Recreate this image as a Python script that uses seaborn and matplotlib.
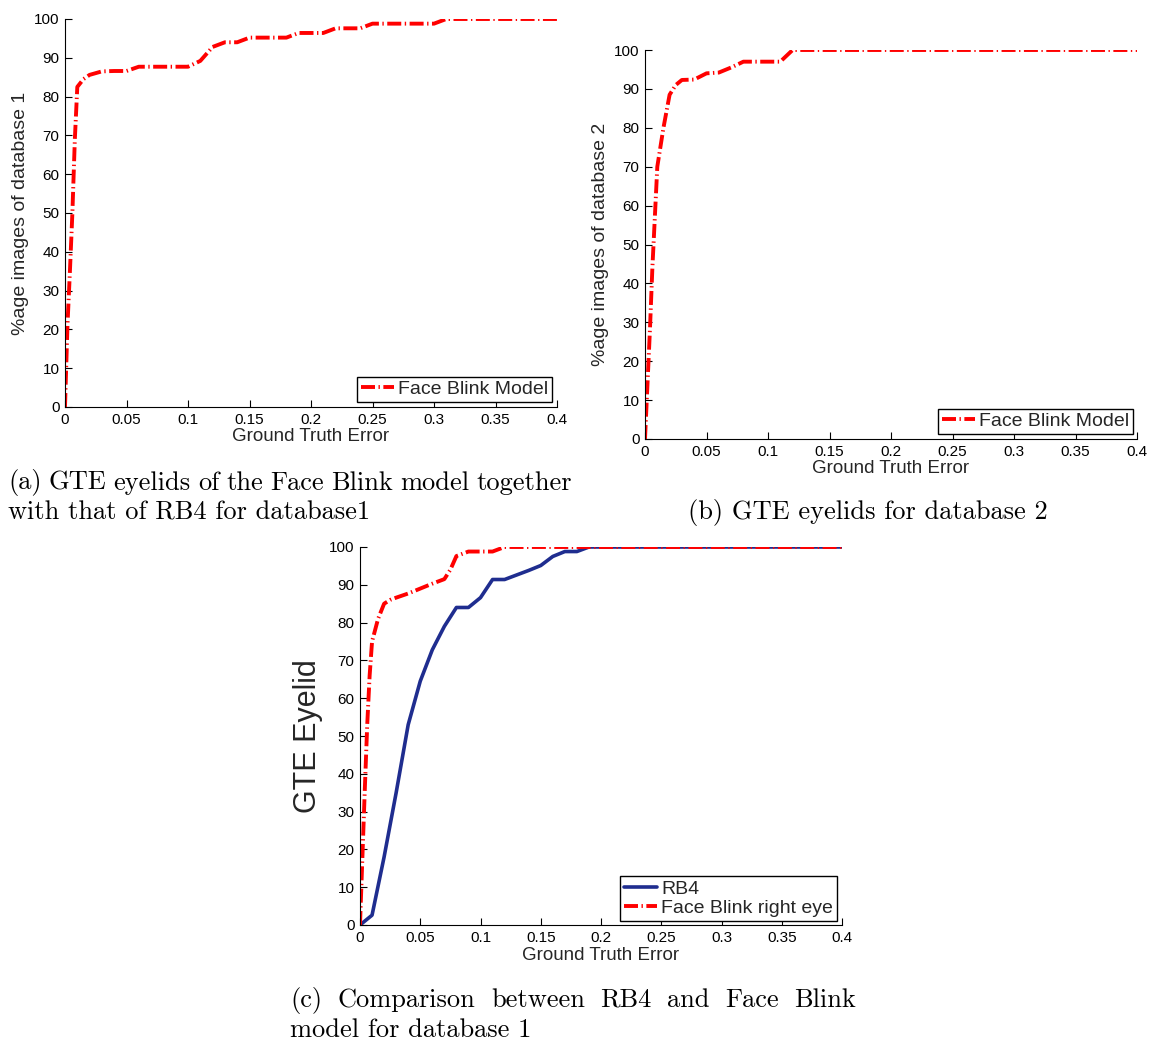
import numpy as np
import pandas as pd
import matplotlib
matplotlib.use("Agg")
import matplotlib.pyplot as plt
import seaborn as sns

# ---------------- data ----------------
# (a) database 1, Face Blink model
gte_a = [0, 0.002, 0.004, 0.006, 0.008, 0.01, 0.015, 0.02, 0.03, 0.04, 0.05,
         0.06, 0.07, 0.08, 0.09, 0.10, 0.11, 0.12, 0.13, 0.14, 0.15, 0.16,
         0.17, 0.18, 0.19, 0.20, 0.21, 0.22, 0.23, 0.24, 0.25, 0.26, 0.27,
         0.28, 0.29, 0.30, 0.31, 0.32, 0.33, 0.34, 0.35, 0.36, 0.37, 0.38,
         0.39, 0.40]
pct_a = [0, 21, 35, 50, 69, 82.5, 84.5, 85.6, 86.5, 86.6, 86.6,
         87.7, 87.7, 87.7, 87.7, 87.7, 89.2, 92.8, 94.0, 94.0, 95.2, 95.2,
         95.2, 95.2, 96.4, 96.4, 96.4, 97.6, 97.6, 97.6, 98.8, 98.8, 98.8,
         98.8, 98.8, 98.8, 100, 100, 100, 100, 100, 100, 100, 100,
         100, 100]

# (b) database 2, Face Blink model
gte_b = [0, 0.002, 0.004, 0.006, 0.008, 0.01, 0.015, 0.02, 0.025, 0.03,
         0.04, 0.05, 0.06, 0.07, 0.08, 0.09, 0.10, 0.11, 0.12, 0.13, 0.14,
         0.15, 0.16, 0.17, 0.18, 0.19, 0.20, 0.21, 0.22, 0.23, 0.24, 0.25,
         0.26, 0.27, 0.28, 0.29, 0.30, 0.31, 0.32, 0.33, 0.34, 0.35, 0.36,
         0.37, 0.38, 0.39, 0.40]
pct_b = [0, 14, 28, 44, 57, 70, 80, 88.5, 91, 92.3,
         92.4, 94.0, 94.2, 95.5, 97.0, 97.0, 97.0, 97.0, 100, 100, 100,
         100, 100, 100, 100, 100, 100, 100, 100, 100, 100, 100,
         100, 100, 100, 100, 100, 100, 100, 100, 100, 100, 100,
         100, 100, 100, 100]

# (c) database 1, RB4 vs Face Blink right eye
gte_rb4 = [0, 0.01, 0.02, 0.03, 0.04, 0.05, 0.06, 0.07, 0.08, 0.09, 0.10,
           0.11, 0.12, 0.13, 0.14, 0.15, 0.16, 0.17, 0.18, 0.19, 0.20, 0.21,
           0.22, 0.23, 0.24, 0.25, 0.26, 0.27, 0.28, 0.29, 0.30, 0.31, 0.32,
           0.33, 0.34, 0.35, 0.36, 0.37, 0.38, 0.39, 0.40]
pct_rb4 = [0, 2.6, 18, 35, 53, 64.5, 72.8, 79, 84, 84, 86.6,
           91.4, 91.4, 92.6, 93.8, 95.1, 97.5, 98.8, 98.8, 100, 100, 100,
           100, 100, 100, 100, 100, 100, 100, 100, 100, 100, 100,
           100, 100, 100, 100, 100, 100, 100, 100]

gte_fb = [0, 0.002, 0.004, 0.006, 0.008, 0.01, 0.015, 0.02, 0.025, 0.03,
          0.04, 0.05, 0.06, 0.07, 0.075, 0.08, 0.09, 0.10, 0.11, 0.12, 0.13,
          0.14, 0.15, 0.16, 0.17, 0.18, 0.19, 0.20, 0.21, 0.22, 0.23, 0.24,
          0.25, 0.26, 0.27, 0.28, 0.29, 0.30, 0.31, 0.32, 0.33, 0.34, 0.35,
          0.36, 0.37, 0.38, 0.39, 0.40]
pct_fb = [0, 18, 36, 53, 66, 75, 81, 85, 86, 86.6,
          87.7, 89.0, 90.3, 91.5, 94.0, 97.6, 98.8, 98.8, 98.8, 100, 100,
          100, 100, 100, 100, 100, 100, 100, 100, 100, 100, 100,
          100, 100, 100, 100, 100, 100, 100, 100, 100, 100, 100,
          100, 100, 100, 100, 100]

x_ticks = [0, 0.05, 0.1, 0.15, 0.2, 0.25, 0.3, 0.35, 0.4]
x_tick_labels = ["0", "0.05", "0.1", "0.15", "0.2", "0.25", "0.3", "0.35", "0.4"]
y_ticks = [0, 10, 20, 30, 40, 50, 60, 70, 80, 90, 100]

# ---------------- style ----------------
sns.set_theme(style="ticks")
plt.rcParams["font.family"] = ["Liberation Sans", "DejaVu Sans"]

W, H = 1149, 1040
fig = plt.figure(figsize=(W / 100, H / 100), dpi=100)
fig.patch.set_facecolor("white")

RED = "#ff0000"
BLUE = "#1f2d8f"
DASHDOT = (0, (3.6, 0.9, 0.35, 0.9))


def px_axes(left, top, right, bottom):
    return fig.add_axes([left / W, 1 - bottom / H, (right - left) / W,
                         (bottom - top) / H])


def style_axes(ax, ylabel, ylabel_size, ylabel_x, xlabel_y):
    ax.set_xlim(0, 0.4)
    ax.set_ylim(0, 100)
    ax.set_xticks(x_ticks)
    ax.set_xticklabels(x_tick_labels)
    ax.set_yticks(y_ticks)
    ax.tick_params(direction="in", length=5, width=0.8, labelsize=11,
                   colors="black", pad=4)
    for s in ("top", "right"):
        ax.spines[s].set_visible(False)
    for s in ("left", "bottom"):
        ax.spines[s].set_color("black")
        ax.spines[s].set_linewidth(0.8)
    ax.set_facecolor("white")
    ax.set_xlabel("Ground Truth Error", fontsize=13.5, va="center")
    ax.xaxis.set_label_coords(0.5, xlabel_y)
    ax.set_ylabel(ylabel, fontsize=ylabel_size, va="center")
    ax.yaxis.set_label_coords(ylabel_x, 0.5)


def style_legend(ax, anchor):
    leg = ax.legend(loc="lower right", bbox_to_anchor=anchor,
                    bbox_transform=fig.transFigure, fontsize=14,
                    frameon=True, fancybox=False, framealpha=1,
                    edgecolor="black", borderpad=0.2, borderaxespad=0,
                    handlelength=1.7, handletextpad=0.2, labelspacing=0.1)
    leg.get_frame().set_linewidth(1.0)
    return leg


# (a)
ax_a = px_axes(65, 19, 557, 407)
df_a = pd.DataFrame({"gte": gte_a, "pct": pct_a})
sns.lineplot(data=df_a, x="gte", y="pct", ax=ax_a, color=RED, linewidth=2.8,
             linestyle=DASHDOT, label="Face Blink Model", sort=False)
style_axes(ax_a, "%age images of database 1", 14, -0.09, -0.077)
style_legend(ax_a, (552 / W, 1 - 402 / H))

# (b)
ax_b = px_axes(645, 50, 1137, 439)
df_b = pd.DataFrame({"gte": gte_b, "pct": pct_b})
sns.lineplot(data=df_b, x="gte", y="pct", ax=ax_b, color=RED, linewidth=2.8,
             linestyle=DASHDOT, label="Face Blink Model", sort=False)
style_axes(ax_b, "%age images of database 2", 14, -0.09, -0.075)
style_legend(ax_b, (1133 / W, 1 - 434 / H))

# (c)
ax_c = px_axes(360, 547, 842, 925)
df_rb4 = pd.DataFrame({"gte": gte_rb4, "pct": pct_rb4})
df_fb = pd.DataFrame({"gte": gte_fb, "pct": pct_fb})
sns.lineplot(data=df_rb4, x="gte", y="pct", ax=ax_c, color=BLUE,
             linewidth=2.6, label="RB4", sort=False)
sns.lineplot(data=df_fb, x="gte", y="pct", ax=ax_c, color=RED, linewidth=2.8,
             linestyle=DASHDOT, label="Face Blink right eye", sort=False)
style_axes(ax_c, "GTE Eyelid", 22, -0.108, -0.082)
style_legend(ax_c, (837 / W, 1 - 921 / H))

# ---------------- captions ----------------
CAP_FONT = dict(family="cmr10", fontsize=19, color="black")
renderer = fig.canvas.get_renderer()


def justified_line(text, left, right, y):
    """Spread the words of one caption line evenly between left and right."""
    words = text.split()
    items = [fig.text(0, 1 - y / H, w, ha="left", va="center", **CAP_FONT)
             for w in words]
    widths = [t.get_window_extent(renderer).width for t in items]
    gap = (right - left - sum(widths)) / (len(words) - 1)
    cursor = left
    for t, w in zip(items, widths):
        t.set_x(cursor / W)
        cursor += w + gap


justified_line("(a) GTE eyelids of the Face Blink model together", 8, 572, 483)
fig.text(8 / W, 1 - 513 / H, "with that of RB4 for database1",
         ha="left", va="center", **CAP_FONT)
fig.text(688 / W, 1 - 513 / H, "(b) GTE eyelids for database 2",
         ha="left", va="center", **CAP_FONT)
justified_line("(c) Comparison between RB4 and Face Blink", 290, 856, 1000)
fig.text(290 / W, 1 - 1030 / H, "model for database 1",
         ha="left", va="center", **CAP_FONT)

fig.savefig("out.png", dpi=100, facecolor="white")
